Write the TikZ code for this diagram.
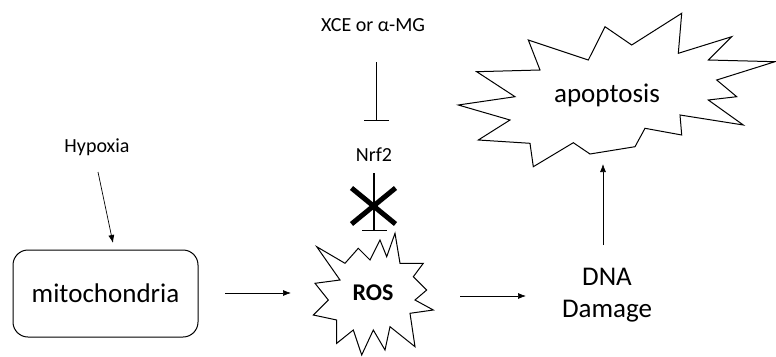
\documentclass[tikz,border=0pt]{standalone}
\usepackage{fontspec}
\setmainfont{Carlito}
\usetikzlibrary{arrows.meta}
\begin{document}
\begin{tikzpicture}[x=1pt,y=-1pt,
  arr/.style={-{Latex[length=8pt,width=6pt]}, line width=0.7pt},
  inh/.style={-{Bar[width=25pt,line width=1.2pt]}, line width=1.2pt},
  burst/.style={draw, line width=1pt, fill=white, line join=miter},
  lbl/.style={font=\fontsize{20}{24}\selectfont, inner sep=0pt},
  big/.style={font=\fontsize{27}{32}\selectfont, align=center, inner sep=0pt}]
\useasboundingbox (0,0) rectangle (776,356);

% texts
\node[lbl] (xce) at (373,25) {XCE or α-MG};
\node[lbl] (nrf) at (374,155) {Nrf2};
\node[lbl] (hyp) at (97,147) {Hypoxia};

% mitochondria box
\node[draw, line width=1pt, rounded corners=15pt, minimum width=185pt, minimum height=87pt,
      font=\fontsize{27}{32}\selectfont] (mito) at (105.5,293.5) {mitochondria};

% ROS starburst
\draw[burst] (316.7,246.7) -- (345,263.3) -- (358.3,248.3) -- (370,260) -- (380,240)
  -- (386.7,256.7) -- (395,233.3) -- (400,263.3) -- (423.3,263.3) -- (413.3,276.7)
  -- (426.7,290) -- (415,300) -- (433.3,310) -- (410,313.3) -- (415,346.7)
  -- (390,326.7) -- (385,350) -- (373.3,330) -- (361.7,355) -- (353.3,330)
  -- (336.7,343.3) -- (336.7,320) -- (313.3,315) -- (328.3,300) -- (315,283.3)
  -- (340,280) -- cycle;
\node[font=\fontsize{24}{28}\selectfont\bfseries] (ros) at (373,293) {ROS};

% apoptosis starburst
\draw[burst] (528.3,40) -- (588.3,60) -- (605,26.7) -- (631.7,45) -- (681.7,13.3)
  -- (678.3,53.3) -- (731.7,36.7) -- (708.3,60) -- (775,61.7) -- (716.7,80)
  -- (736.7,96.7) -- (708.3,100) -- (743.3,125) -- (680,115) -- (681.7,135)
  -- (645,128.3) -- (635,146.7) -- (590,154) -- (573.3,142.7) -- (533.3,166.7)
  -- (530,143.3) -- (478.3,140) -- (510,120) -- (458.3,105) -- (515,96.7)
  -- (476.7,71.7) -- (540,70) -- cycle;
\node[big] (apo) at (607,95) {apoptosis};

% DNA damage
\node[big] (dna) at (607,295) {DNA\\Damage};

% connector end points
\coordinate (t1s) at (376.5,62);
\coordinate (t1e) at (376.5,121);
\coordinate (t2s) at (374,173);
\coordinate (t2e) at (374,231);
\coordinate (h1) at (98,172);
\coordinate (h2) at (113,243);
\coordinate (m1) at (225,293);
\coordinate (m2) at (291,293);
\coordinate (r1) at (460,296);
\coordinate (r2) at (526,296);
\coordinate (d1) at (603,245);
\coordinate (d2) at (603,164);
\coordinate (xc) at (373.5,206);

% connectors
\draw[inh] (t1s) -- (t1e);
\draw[inh] (t2s) -- (t2e);
\draw[arr] (h1) -- (h2);
\draw[arr] (m1) -- (m2);
\draw[arr] (r1) -- (r2);
\draw[arr] (d1) -- (d2);

% cross
\draw[line width=5pt] ([shift={(-22,-18)}]xc) -- ([shift={(22,18)}]xc);
\draw[line width=5pt] ([shift={(-22,18)}]xc) -- ([shift={(22,-18)}]xc);
\end{tikzpicture}
\end{document}
